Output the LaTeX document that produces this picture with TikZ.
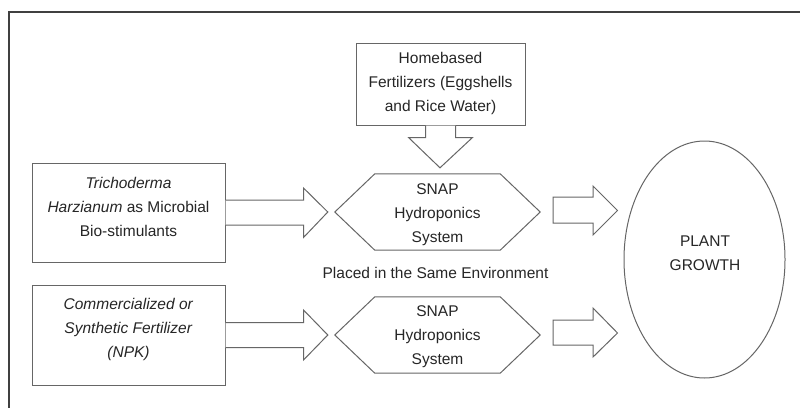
\documentclass[tikz,border=0pt]{standalone}
\usepackage{fontspec}
\setmainfont{Liberation Sans}
\usetikzlibrary{calc,shapes.geometric}
\definecolor{linegray}{HTML}{666666}
\definecolor{framegray}{HTML}{404040}
\definecolor{txtgray}{HTML}{262626}
\begin{document}
\begin{tikzpicture}[x=1pt,y=-1pt,
  box/.style={draw=linegray,line width=1pt,fill=white,inner sep=0pt,minimum width=#1},
  txt/.style={text=txtgray,align=center,font=\fontsize{15.5}{24}\selectfont,inner sep=0pt},
  hexbox/.style={draw=none,inner sep=0pt,minimum width=205pt,minimum height=76pt},
  blockarrow/.style={draw=linegray,line width=1pt,fill=white,line join=miter},
  hexline/.style={draw=linegray,line width=1pt,line join=miter}]
\useasboundingbox (0,0) rectangle (800,407);
\fill[white] (0,0) rectangle (800,407);
% frame
\draw[framegray,line width=1.2pt] (9,430) -- (9,12) -- (830,12);

% left boxes
\node[box=193pt,minimum height=99pt] (b1) at (128.5,212.5) {};
\node[txt] (t1) at (128.5,207) {\textit{Trichoderma}\\\textit{Harzianum} as Microbial\\Bio-stimulants};
\node[box=193pt,minimum height=100pt] (b2) at (128.5,335) {};
\node[txt] (t2) at (128.5,329.5) {\textit{Commercialized or}\\\textit{Synthetic Fertilizer}\\\textit{(NPK)}};

% top box
\node[box=169pt,minimum height=82pt] (b3) at (440.5,84) {};
\node[txt] (t3) at (440.5,83) {Homebased\\Fertilizers (Eggshells\\and Rice Water)};

% hexagons
\node[hexbox] (h1) at (437.5,212) {};
\node[hexbox] (h2) at (437.5,335) {};
\foreach \h in {h1,h2}{
  \draw[hexline] (\h.west) -- ($(\h.north west)+(40,0)$) -- ($(\h.north east)+(-40,0)$)
    -- (\h.east) -- ($(\h.south east)+(-40,0)$) -- ($(\h.south west)+(40,0)$) -- cycle;
}
\node[txt] (t4) at (437.5,214.5) {SNAP\\Hydroponics\\System};
\node[txt] (t5) at (437.5,336.5) {SNAP\\Hydroponics\\System};

\node[txt] (t6) at (435.5,273) {Placed in the Same Environment};

% ellipse
\node[draw=linegray,line width=1pt,ellipse,minimum width=161pt,minimum height=237pt,inner sep=0pt] (el) at (704.5,259.5) {};
\node[txt] (t7) at (705,253.5) {PLANT\\GROWTH};

% left block arrows (open at box edge)
\draw[blockarrow] ($(b1.east)+(0,-12.5)$) -- ++(78,0) -- ++(0,-12) -- ($(h1.west)+(-7,0)$)
  -- ($(b1.east)+(78,25)$) -- ++(0,-12.5) -- ($(b1.east)+(0,12.5)$);
\draw[blockarrow] ($(b2.east)+(0,-12.5)$) -- ++(78,0) -- ++(0,-12.5) -- ($(h2.west)+(-7,0)$)
  -- ($(b2.east)+(78,25)$) -- ++(0,-12.5) -- ($(b2.east)+(0,12.5)$);

% down arrow from top box
\draw[blockarrow] ($(b3.south)+(-15,0)$) -- ++(0,12) -- ++(-17,0) -- ($(h1.north)+(2.5,-6)$)
  -- ($(b3.south)+(32,12)$) -- ++(-17,0) -- ($(b3.south)+(15,0)$);

% right block arrows
\coordinate (r1) at (553,210);
\coordinate (r2) at (553,332.5);
\draw[blockarrow] ($(r1)+(0,-13)$) -- ++(40,0) -- ++(0,-11) -- ($(el.west)+(-6,-49)$) -- ($(r1)+(40,25)$)
  -- ++(0,-12) -- ++(-40,0) -- cycle;
\draw[blockarrow] ($(r2)+(0,-12.5)$) -- ++(40,0) -- ++(0,-12) -- ($(el.west)+(-6,73.5)$) -- ($(r2)+(40,24.5)$)
  -- ++(0,-12) -- ++(-40,0) -- cycle;
\end{tikzpicture}
\end{document}
